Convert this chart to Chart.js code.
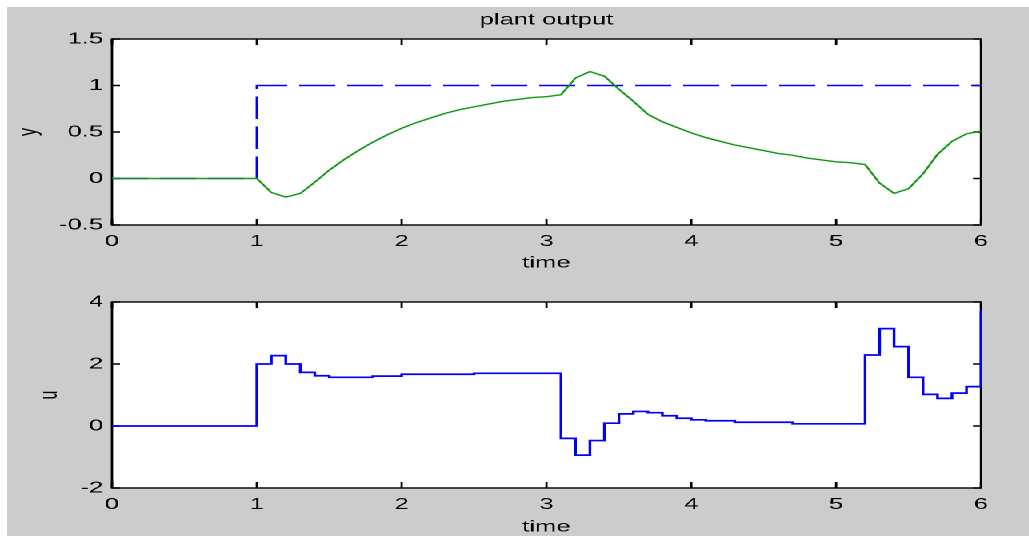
<!DOCTYPE html>
<html>
<head>
<meta charset="utf-8">
<script src="https://cdn.jsdelivr.net/npm/chart.js@4.4.0/dist/chart.umd.min.js"></script>
<style>
  html, body { margin: 0; padding: 0; background: #ffffff; }
  #figure { position: absolute; left: 7px; top: 7px; width: 1022px; height: 529px; background: #cccccc; }
  /* the figure is drawn narrow and widened, so text and lines come out wide */
  #stretch { position: absolute; left: 0; top: 0; width: 643.125px; height: 536px; transform: scaleX(1.6); transform-origin: 0 0; }
  .panel { position: absolute; left: 0; width: 643.125px; }
  #topPanel { top: 0; height: 280px; }
  #bottomPanel { top: 280px; height: 256px; }
</style>
</head>
<body>
<div id="figure"></div>
<div id="stretch">
  <div class="panel" id="topPanel"><canvas id="plantChart"></canvas></div>
  <div class="panel" id="bottomPanel"><canvas id="controlChart"></canvas></div>
</div>
<script>
// plant output y(t), sampled every 0.1 s after the step
const timeY = [0, 1.0, 1.1, 1.2, 1.3, 1.4, 1.5, 1.6, 1.7, 1.8, 1.9,
    2.0, 2.1, 2.2, 2.3, 2.4, 2.5, 2.6, 2.7, 2.8, 2.9,
    3.0, 3.1, 3.2, 3.3, 3.4, 3.5, 3.6, 3.7, 3.8, 3.9,
    4.0, 4.1, 4.2, 4.3, 4.4, 4.5, 4.6, 4.7, 4.8, 4.9,
    5.0, 5.1, 5.2, 5.3, 5.4, 5.5, 5.6, 5.7, 5.8, 5.9, 6.0];
const plantY = [0, 0, -0.15, -0.20, -0.16, -0.04, 0.09, 0.20, 0.30, 0.39, 0.47,
    0.54, 0.60, 0.65, 0.70, 0.74, 0.77, 0.80, 0.83, 0.85, 0.87,
    0.88, 0.90, 1.08, 1.15, 1.10, 0.96, 0.83, 0.69, 0.61, 0.55,
    0.49, 0.44, 0.40, 0.36, 0.33, 0.30, 0.27, 0.25, 0.22, 0.20,
    0.18, 0.17, 0.15, -0.05, -0.16, -0.11, 0.05, 0.26, 0.40, 0.48, 0.51];

// reference step
const refTime = [0, 1, 1, 6];
const refY = [0, 0, 1, 1];

// control signal u(t), held between samples
const timeU = [0, 1.0, 1.1, 1.2, 1.3, 1.4, 1.5, 1.8, 2.0, 2.5,
    3.1, 3.2, 3.3, 3.4, 3.5, 3.6, 3.7, 3.8, 3.9, 4.0, 4.1, 4.3, 4.7,
    5.2, 5.3, 5.4, 5.5, 5.6, 5.7, 5.8, 5.9, 6.0];
const controlU = [0, 2.0, 2.27, 2.0, 1.73, 1.62, 1.57, 1.61, 1.67, 1.70,
    -0.40, -0.94, -0.47, 0.09, 0.39, 0.47, 0.43, 0.33, 0.25, 0.20, 0.17, 0.12, 0.07,
    2.29, 3.14, 2.56, 1.57, 1.02, 0.89, 1.06, 1.27, 3.72];

const textColor = '#000008';
const axisFont = { family: "'Liberation Sans', Arial, Helvetica, sans-serif", size: 16 };

function toPoints(xs, ys) {
    return xs.map((x, i) => ({ x: x, y: ys[i] }));
}

// white plot box with inward tick marks on all four sides
const boxedAxes = {
    id: 'boxedAxes',
    beforeDraw(chart) {
        const { ctx, chartArea: a } = chart;
        ctx.save();
        ctx.fillStyle = '#ffffff';
        ctx.fillRect(a.left, a.top, a.right - a.left, a.bottom - a.top);
        ctx.restore();
    },
    beforeDatasetsDraw(chart) {
        const { ctx, chartArea: a, scales } = chart;
        ctx.save();
        ctx.strokeStyle = '#000000';
        ctx.lineWidth = 1.4;
        ctx.strokeRect(a.left, a.top, a.right - a.left, a.bottom - a.top);
        ctx.beginPath();
        scales.x.ticks.forEach(t => {
            const px = scales.x.getPixelForValue(t.value);
            ctx.moveTo(px, a.bottom); ctx.lineTo(px, a.bottom - 6);
            ctx.moveTo(px, a.top); ctx.lineTo(px, a.top + 6);
        });
        scales.y.ticks.forEach(t => {
            const py = scales.y.getPixelForValue(t.value);
            ctx.moveTo(a.left, py); ctx.lineTo(a.left + 5, py);
            ctx.moveTo(a.right, py); ctx.lineTo(a.right - 5, py);
        });
        ctx.stroke();
        ctx.restore();
    }
};

function timeAxis(titleBottom, axisHeight) {
    return {
        type: 'linear',
        min: 0,
        max: 6,
        grid: { display: false, drawTicks: false },
        border: { display: false },
        ticks: {
            stepSize: 1,
            padding: 7,
            color: textColor,
            font: axisFont,
            maxRotation: 0,
            callback: v => String(v)
        },
        title: {
            display: true,
            text: 'time',
            color: textColor,
            font: axisFont,
            padding: { top: 0, bottom: titleBottom }
        },
        afterFit: s => { s.height = axisHeight; }
    };
}

function valueAxis(label, min, max, step, titleOffset) {
    return {
        type: 'linear',
        min: min,
        max: max,
        grid: { display: false, drawTicks: false },
        border: { display: false },
        ticks: {
            stepSize: step,
            padding: 5.5,
            color: textColor,
            font: axisFont,
            callback: v => String(v)
        },
        title: {
            display: true,
            text: label,
            color: textColor,
            font: axisFont,
            padding: { top: titleOffset, bottom: 0 }
        },
        afterFit: s => { s.width = 70; }
    };
}

const plantChart = new Chart(document.getElementById('plantChart').getContext('2d'), {
    type: 'line',
    data: {
        datasets: [
            {
                label: 'y',
                data: toPoints(timeY, plantY),
                borderColor: '#119911',
                borderWidth: 1.4,
                pointRadius: 0,
                tension: 0,
                clip: 4
            },
            {
                label: 'reference',
                data: toPoints(refTime, refY),
                borderColor: '#0000ff',
                borderWidth: 1.5,
                borderDash: [22.5, 7.5],
                pointRadius: 0,
                tension: 0,
                clip: 4
            }
        ]
    },
    options: {
        animation: false,
        responsive: true,
        maintainAspectRatio: false,
        devicePixelRatio: 2,
        layout: { padding: { top: 0, right: 30, bottom: 0, left: 0 } },
        plugins: {
            legend: { display: false },
            tooltip: { enabled: false },
            title: {
                display: true,
                text: 'plant output',
                fullSize: false,
                color: textColor,
                font: { family: axisFont.family, size: 16, weight: 'normal' },
                padding: { top: 10.4, bottom: 9.4 }
            }
        },
        scales: {
            x: timeAxis(7.4, 55),
            y: valueAxis('y', -0.5, 1.5, 0.5, 8.5)
        }
    },
    plugins: [boxedAxes]
});

const controlChart = new Chart(document.getElementById('controlChart').getContext('2d'), {
    type: 'line',
    data: {
        datasets: [
            {
                label: 'u',
                data: toPoints(timeU, controlU),
                borderColor: '#0000ff',
                borderWidth: 1.7,
                stepped: 'before',
                pointRadius: 0,
                clip: 4
            }
        ]
    },
    options: {
        animation: false,
        responsive: true,
        maintainAspectRatio: false,
        devicePixelRatio: 2,
        layout: { padding: { top: 22, right: 30, bottom: 0, left: 0 } },
        plugins: {
            legend: { display: false },
            tooltip: { enabled: false }
        },
        scales: {
            x: timeAxis(-0.6, 48),
            y: valueAxis('u', -2, 4, 2, 21.5)
        }
    },
    plugins: [boxedAxes]
});
</script>
</body>
</html>
